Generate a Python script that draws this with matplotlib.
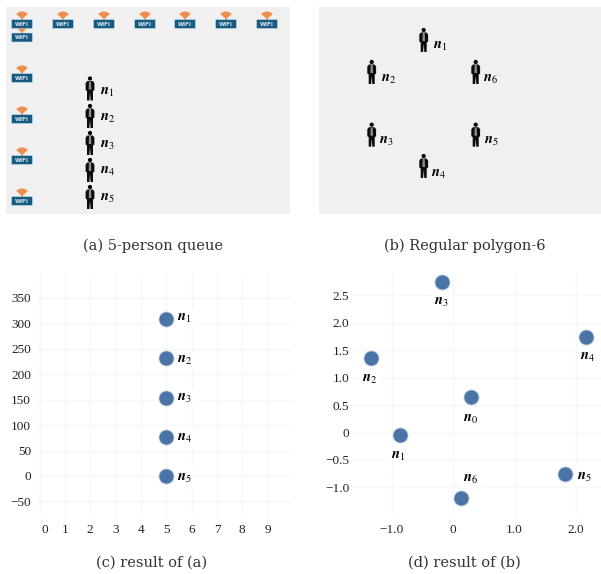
import matplotlib
matplotlib.use('Agg')
import matplotlib.pyplot as plt
from matplotlib.patches import Circle, FancyBboxPatch, Polygon, Rectangle, Wedge
from matplotlib.transforms import ScaledTranslation

W, H = 601, 574

# (a) and (b) scenes in pixels
wifi_x = [22, 63, 104, 145, 185, 226, 267, 22, 22, 22, 22, 22]
wifi_y = [24, 24, 24, 24, 24, 24, 24, 37.5, 78, 119, 160, 201]
queue_x = [90, 90, 90, 90, 90]
queue_y = [88.5, 116, 143, 170, 197]
queue_label_x = [100, 100, 100, 100, 100]
queue_label_y = [92, 118, 145, 171, 198]
queue_names = ['1', '2', '3', '4', '5']

poly_x = [423.7, 371.7, 371.7, 423.7, 475.7, 475.7]
poly_y = [40, 72, 134.7, 166, 134.7, 72]
poly_label_x = [433, 381, 378.7, 431, 484, 483]
poly_label_y = [46, 79, 141, 174, 141, 79]
poly_names = ['1', '2', '3', '4', '5', '6']

# (c) result of (a)
c_x = [5, 5, 5, 5, 5]
c_y = [309, 231, 154, 77, 0]
c_names = ['1', '2', '3', '4', '5']
c_dx = [18, 18, 18, 18, 18]
c_dy = [0, -2, -1, -2, -2]
c_xticks = [0, 1, 2, 3, 4, 5, 6, 7, 8, 9]
c_yticks = [-50, 0, 50, 100, 150, 200, 250, 300, 350]

# (d) result of (b)
d_x = [0.29, -0.86, -1.34, -0.19, 2.17, 1.83, 0.125]
d_y = [0.64, -0.05, 1.36, 2.74, 1.75, -0.75, -1.19]
d_names = ['0', '1', '2', '3', '4', '5', '6']
d_dx = [0, -2, -1, 0, 1, 19, 10]
d_dy = [-22, -21, -21, -20, -21, -4, 18]
d_xticks = [-1.0, 0, 1.0, 2.0]
d_xlabels = ['\u22121.0', '0', '1.0', '2.0']
d_yticks = [-1.0, -0.5, 0, 0.5, 1.0, 1.5, 2.0, 2.5]
d_ylabels = ['\u22121.0', '\u22120.5', '0', '0.5', '1.0', '1.5', '2.0', '2.5']

captions = ['(a) 5-person queue', '(b) Regular polygon-6', '(c) result of (a)', '(d) result of (b)']
caption_x = [153, 465, 152, 464]
caption_y = [246, 246, 563, 563]

PANEL = '#f0f0f0'
DOT = '#4a74a6'
GRID = '#f5f7f9'

plt.rcParams['font.family'] = ['Liberation Serif', 'DejaVu Serif']
plt.rcParams['mathtext.fontset'] = 'stix'


def add_axes_px(fig, left, top, right, bottom):
    return fig.add_axes([left / W, 1 - bottom / H, (right - left) / W, (bottom - top) / H])


def draw_wifi(ax, x, y):
    ax.add_patch(Wedge((x, y - 5), 7.5, 220, 320, fc='#ee8f4d', ec='none', zorder=3))
    ax.add_patch(Rectangle((x - 0.8, y - 7), 1.6, 3.5, fc='#ee8f4d', ec='none', zorder=3))
    ax.add_patch(FancyBboxPatch((x - 9.5, y - 3.5), 19, 7, boxstyle='round,pad=1', fc='#175a82', ec='#cfe0ea',
                                lw=0.4, zorder=4))
    ax.text(x, y + 0.2, 'WiFi', color='#dbe8f0', fontsize=4, family='DejaVu Sans', weight='bold',
            ha='center', va='center', zorder=5)


def draw_person(ax, x, y):
    ax.add_patch(Circle((x, y - 10), 2.1, fc='black', ec='none', zorder=3))
    body = [(-2.8, -7.5), (2.8, -7.5), (4.4, -5.5), (4.4, 1.5), (3, 2.5), (3, 12), (0.6, 12), (0, 4),
            (-0.6, 12), (-3, 12), (-3, 2.5), (-4.4, 1.5), (-4.4, -5.5)]
    ax.add_patch(Polygon([(x + a, y + b) for a, b in body], fc='#0c0c0c', ec='none', zorder=3))
    tie = [(-1, -7), (1, -7), (1.3, 1), (-1.3, 1)]
    ax.add_patch(Polygon([(x + a, y + b) for a, b in tie], fc='#8f8f8f', ec='none', zorder=4))


def draw_dots(ax, xs, ys, names, dxs, dys):
    ax.scatter(xs, ys, s=118, color=DOT, edgecolors='#c3d2e2', linewidths=0.6, zorder=3, clip_on=False)
    for x, y, name, dx, dy in zip(xs, ys, names, dxs, dys):
        ax.annotate(r'$\mathbfit{n}_{%s}$' % name, (x, y), xytext=(dx, dy), textcoords='offset pixels',
                    ha='center', va='center', fontsize=10.5, zorder=4,
                    bbox=dict(fc='white', ec='none', pad=1.5))


def style_result_axes(ax):
    for side in ax.spines.values():
        side.set_visible(False)
    ax.grid(True, color=GRID, lw=1)
    ax.set_axisbelow(True)
    ax.tick_params(length=0, labelsize=9.5, colors='#222222')


fig = plt.figure(figsize=(W / 100, H / 100), dpi=100)

# pixel-space layer for the two scenes and the captions
scene = fig.add_axes([0, 0, 1, 1])
scene.set_xlim(0, W)
scene.set_ylim(H, 0)
scene.axis('off')
scene.add_patch(Rectangle((6, 7), 284, 207, fc=PANEL, ec='none'))
scene.add_patch(Rectangle((319, 7), 282, 207, fc=PANEL, ec='none'))

for x, y in zip(wifi_x, wifi_y):
    draw_wifi(scene, x, y)
for x, y in zip(queue_x + poly_x, queue_y + poly_y):
    draw_person(scene, x, y)
for x, y, name in zip(queue_label_x + poly_label_x, queue_label_y + poly_label_y, queue_names + poly_names):
    scene.text(x, y, r'$\mathbfit{n}_{%s}$' % name, fontsize=10.5, ha='left', va='center', zorder=6)
for x, y, text in zip(caption_x, caption_y, captions):
    scene.text(x, y, text, fontsize=10.5, family='DejaVu Serif', ha='center', va='center', color='#333333')

ax_c = add_axes_px(fig, 38, 273, 293, 517)
ax_c.set_xlim(-0.06, 10.0)
ax_c.set_ylim(-80.6, 399)
ax_c.set_xticks(c_xticks)
ax_c.set_yticks(c_yticks)
ax_c.set_yticklabels([str(v).replace('-', '\u2212') for v in c_yticks])
style_result_axes(ax_c)
ax_c.tick_params(axis='x', pad=5)
ax_c.tick_params(axis='y', pad=5)
# the 0 label sits right of its gridline in the original
zero = ax_c.get_xticklabels()[0]
zero.set_transform(zero.get_transform() + ScaledTranslation(5 / 100, 0, fig.dpi_scale_trans))
draw_dots(ax_c, c_x, c_y, c_names, c_dx, c_dy)

ax_d = add_axes_px(fig, 352, 273, 601, 517)
ax_d.set_xlim(-1.65, 2.41)
ax_d.set_ylim(-1.54, 2.91)
ax_d.set_xticks(d_xticks)
ax_d.set_xticklabels(d_xlabels)
ax_d.set_yticks(d_yticks)
ax_d.set_yticklabels(d_ylabels)
style_result_axes(ax_d)
ax_d.tick_params(axis='x', pad=5)
ax_d.tick_params(axis='y', pad=2)
draw_dots(ax_d, d_x, d_y, d_names, d_dx, d_dy)

fig.savefig('out.png', dpi=100)
